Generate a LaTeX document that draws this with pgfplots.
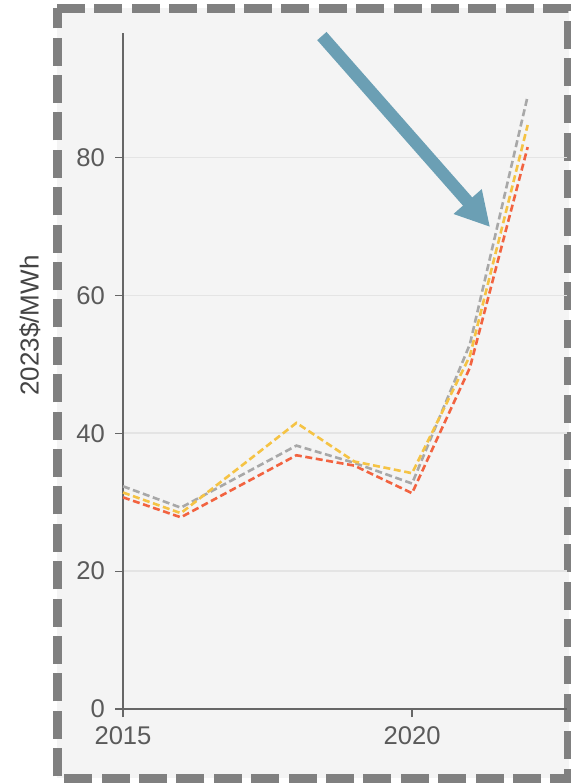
\documentclass[border=0pt]{standalone}
\usepackage{fontspec}
\setmainfont{Liberation Sans}
\usepackage{pgfplots}
\usepackage{pgfplotstable}
\pgfplotsset{compat=1.18}
\usetikzlibrary{arrows.meta}
\definecolor{bgc}{HTML}{F4F4F4}
\definecolor{brd}{HTML}{808080}
\definecolor{axc}{HTML}{666666}
\definecolor{gridc}{HTML}{E4E4E4}
\definecolor{tickc}{HTML}{5A5A5A}
\definecolor{labc}{HTML}{444444}
\definecolor{sgray}{HTML}{A8A8A8}
\definecolor{syel}{HTML}{F5C344}
\definecolor{sred}{HTML}{F26340}
\definecolor{arr}{HTML}{6B9FB4}

\pgfplotstableread{
year gray yellow red
2015 32.3 31.4 30.7
2016 29.2 28.4 27.8
2018 38.2 41.5 36.8
2019 35.7 35.9 35.3
2020 32.7 34.2 31.3
2021 52.9 51.2 49.5
2022 88.9 84.7 81.5
}\data

\begin{document}
\begin{tikzpicture}
\useasboundingbox (0pt,0pt) rectangle (285pt,391.5pt);
\fill[white] (0pt,0pt) rectangle (285pt,391.5pt);
\draw[brd, fill=bgc, line width=4.5pt, dash pattern=on 14pt off 4.7pt]
  (28.5pt,387.25pt) -- (284.25pt,387.25pt) -- (284.25pt,2.25pt) -- (28.5pt,2.25pt) -- cycle;
\begin{axis}[
  at={(61.5pt,37pt)}, anchor=south west,
  scale only axis, width=222pt, height=337.85pt,
  xmin=2015, xmax=2022.68, ymin=0, ymax=98,
  axis lines=left,
  axis line style={-, axc, line width=1pt},
  tick align=outside, major tick length=4pt,
  tick style={axc, line width=0.6pt},
  xtick={2015,2020}, ytick={0,20,40,60,80},
  ymajorgrids, grid style={gridc, line width=0.8pt},
  ticklabel style={font=\fontsize{12.8}{14}\selectfont, text=tickc},
  yticklabel style={xshift=-1.5pt},
  xticklabel style={yshift=-1.5pt},
  /pgf/number format/assume math mode=true,
  /pgf/number format/1000 sep={},
  clip=false,
]
\addplot[sgray, line width=1.3pt, dash pattern=on 3.5pt off 1.8pt] table[x=year,y=gray]{\data};
\addplot[syel, line width=1.3pt, dash pattern=on 3.5pt off 1.8pt] table[x=year,y=yellow]{\data};
\addplot[sred, line width=1.3pt, dash pattern=on 3.5pt off 1.8pt] table[x=year,y=red]{\data};
\draw[arr, line width=6.2pt, -{Triangle[length=17pt,width=17.5pt]}] (axis cs:2018.44,97.6) -- (axis cs:2021.35,69.9);
\end{axis}
\node[rotate=90, font=\fontsize{13}{15}\selectfont, text=labc] at (15pt,228.75pt) {2023\$/MWh};
\end{tikzpicture}
\end{document}
